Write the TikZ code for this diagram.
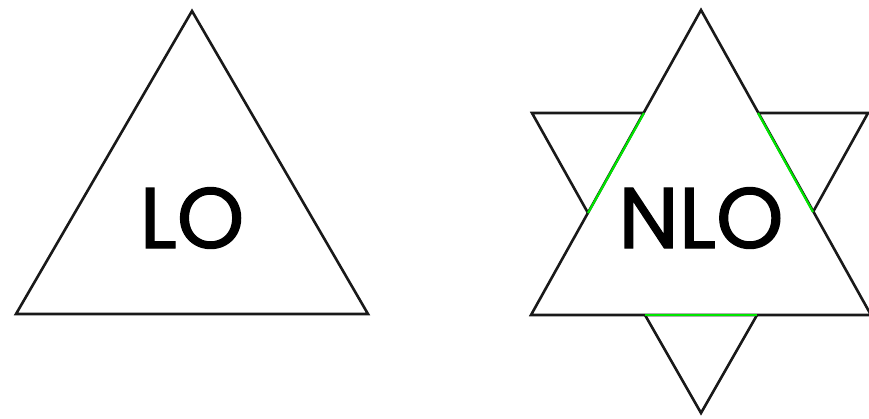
\documentclass[tikz,border=0pt]{standalone}
\usepackage{fontspec}
\newfontfamily\labelfont{Poppins}[FakeBold=1.4]
\begin{document}
\begin{tikzpicture}[
  x=1pt, y=-1pt,
  edge/.style={draw=black!90, line width=2.6pt, line join=miter},
  overlap/.style={draw=green!90!black, line width=2.2pt, line cap=butt},
  label/.style={font=\labelfont\fontsize{86}{86}\selectfont, inner sep=0pt}
]
\useasboundingbox (0,0) rectangle (869,418);
% left triangle
\coordinate (lotop) at (192,11);
\coordinate (loleft) at (16,314);
\coordinate (loright) at (368,314);
\draw[edge] (lotop) -- (loleft) -- (loright) -- cycle;
\node[label] (lo) at (192,218) {LO};
% star: upward triangle
\coordinate (uptop) at (701,10);
\coordinate (upleft) at (531,315);
\coordinate (upright) at (871,315);
\draw[edge] (uptop) -- (upleft) -- (upright) -- cycle;
% crossing points
\coordinate (gl1) at (644,113);
\coordinate (gl2) at (588,213);
\coordinate (gr1) at (758,113);
\coordinate (gr2) at (813,212);
\coordinate (gb1) at (645,315);
\coordinate (gb2) at (757,315);
% downward triangle, outside parts only
\coordinate (dnleft) at (532,113);
\coordinate (dnright) at (868,113);
\coordinate (dnbottom) at (701,413);
\draw[edge] (gl1) -- (dnleft) -- (gl2);
\draw[edge] (gr1) -- (dnright) -- (gr2);
\draw[edge] (gb1) -- (dnbottom) -- (gb2);
% overlapping edges
\draw[overlap] (gl1) -- (gl2);
\draw[overlap] (gr1) -- (gr2);
\draw[overlap] (gb1) -- (gb2);
\node[label] (nlo) at (701,218) {NLO};
\end{tikzpicture}
\end{document}
